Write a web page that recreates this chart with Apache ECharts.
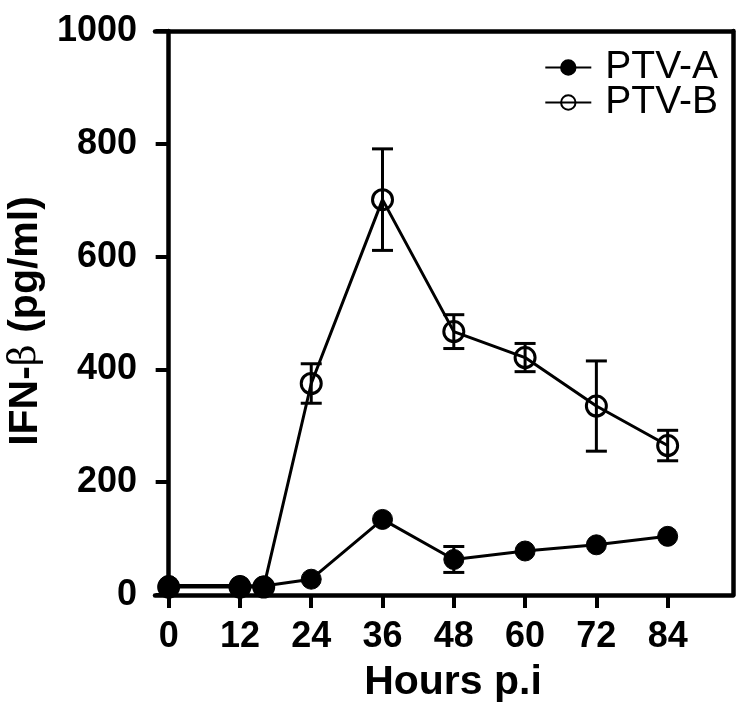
<!DOCTYPE html>
<html>
<head>
<meta charset="utf-8">
<script src="https://cdn.jsdelivr.net/npm/echarts@6/dist/echarts.min.js"></script>
<style>
  html, body { margin: 0; padding: 0; background: #fff; }
  #chart { width: 745px; height: 719px; }
</style>
</head>
<body>
<div id="chart"></div>
<script>
// hours post infection
const hours = [0, 12, 16, 24, 36, 48, 60, 72, 84]
const xTicks = [0, 12, 24, 36, 48, 60, 72, 84]
// IFN-beta (pg/ml)
const ptvA = [17, 17, 16, 28, 134, 63, 78, 89, 104]
const ptvAErr = [0, 0, 0, 0, 0, 23, 0, 0, 0]
const ptvB = [14, 14, 14, 375, 701, 467, 421, 335, 265]
const ptvBErr = [0, 0, 0, 35, 90, 30, 25, 80, 27]

const font = "'Liberation Sans', Arial, Helvetica, sans-serif"

function errorBars (name, vals, errs) {
  const data = []
  hours.forEach((h, i) => {
    if (errs[i] > 0) data.push([h, vals[i] - errs[i], vals[i] + errs[i]])
  })
  return {
    type: 'custom',
    name: name,
    data: data,
    silent: true,
    z: 1,
    encode: { x: 0, y: [1, 2] },
    renderItem (params, api) {
      const x = api.value(0)
      const lo = api.coord([x, api.value(1)])
      const hi = api.coord([x, api.value(2)])
      const w = 10.5
      const st = { stroke: '#000', lineWidth: 3 }
      return {
        type: 'group',
        children: [
          { type: 'line', shape: { x1: lo[0], y1: lo[1], x2: hi[0], y2: hi[1] }, style: st },
          { type: 'line', shape: { x1: lo[0] - w, y1: lo[1], x2: lo[0] + w, y2: lo[1] }, style: st },
          { type: 'line', shape: { x1: hi[0] - w, y1: hi[1], x2: hi[0] + w, y2: hi[1] }, style: st }
        ]
      }
    }
  }
}

const chart = echarts.init(document.getElementById('chart'))
chart.setOption({
  animation: false,
  backgroundColor: '#fff',
  grid: { left: 155, right: 12, top: 31, bottom: 124, outerBoundsMode: 'none', containLabel: false },
  legend: {
    data: ['PTV-A', 'PTV-B'],
    orient: 'vertical',
    right: 22,
    top: 43,
    itemWidth: 46,
    itemHeight: 18,
    itemGap: -4,
    textStyle: { fontFamily: font, fontSize: 39, lineHeight: 38, color: '#000', padding: [0, 0, 0, 9] }
  },
  xAxis: [
    {
      type: 'value',
      min: -2.3,
      max: 95,
      name: 'Hours p.i',
      nameLocation: 'middle',
      nameGap: 67,
      nameTextStyle: { fontFamily: font, fontSize: 41, fontWeight: 'bold', color: '#000', padding: [0, 0, 0, 18] },
      splitLine: { show: false },
      axisLine: { onZero: false, lineStyle: { color: '#000', width: 4.5 } },
      axisTick: { customValues: xTicks, length: 13, lineStyle: { color: '#000', width: 4 } },
      axisLabel: { customValues: xTicks, margin: 24, fontFamily: font, fontSize: 36, fontWeight: 'bold', color: '#000' }
    },
    {
      type: 'value',
      position: 'top',
      min: -2.3,
      max: 95,
      splitLine: { show: false },
      axisLine: { onZero: false, lineStyle: { color: '#000', width: 4.5 } },
      axisTick: { show: false },
      axisLabel: { show: false }
    }
  ],
  yAxis: [
    {
      type: 'value',
      min: 0,
      max: 1000,
      interval: 200,
      name: '{b|IFN-}{n|β}{b| (pg/ml)}',
      nameLocation: 'middle',
      nameGap: 103,
      nameTextStyle: {
        padding: [0, 16, 0, 0],
        rich: {
          b: { fontFamily: font, fontSize: 41, fontWeight: 'bold', color: '#000' },
          n: { fontFamily: "'DejaVu Serif', serif", fontSize: 38, fontWeight: 'normal', color: '#000' }
        }
      },
      splitLine: { show: false },
      axisLine: { onZero: true, lineStyle: { color: '#000', width: 4.5 } },
      axisTick: { length: 13, lineStyle: { color: '#000', width: 4 } },
      axisLabel: { margin: 18, fontFamily: font, fontSize: 36, fontWeight: 'bold', color: '#000', formatter: (v) => String(v) }
    },
    {
      type: 'value',
      position: 'right',
      min: 0,
      max: 1000,
      splitLine: { show: false },
      axisLine: { show: true, onZero: false, lineStyle: { color: '#000', width: 4.5 } },
      axisTick: { show: false },
      axisLabel: { show: false }
    }
  ],
  series: [
    errorBars('errB', ptvB, ptvBErr),
    errorBars('errA', ptvA, ptvAErr),
    {
      name: 'PTV-B',
      type: 'line',
      data: hours.map((h, i) => [h, ptvB[i]]),
      symbol: 'circle',
      symbolSize: 20,
      z: 2,
      lineStyle: { color: '#000', width: 3 },
      itemStyle: { color: 'rgba(255,255,255,0)', borderColor: '#000', borderWidth: 3 }
    },
    {
      name: 'PTV-A',
      type: 'line',
      data: hours.map((h, i) => [h, ptvA[i]]),
      symbol: 'circle',
      symbolSize: 20,
      z: 3,
      lineStyle: { color: '#000', width: 3 },
      itemStyle: { color: '#000', borderColor: '#000', borderWidth: 1 }
    }
  ]
})
</script>
</body>
</html>
